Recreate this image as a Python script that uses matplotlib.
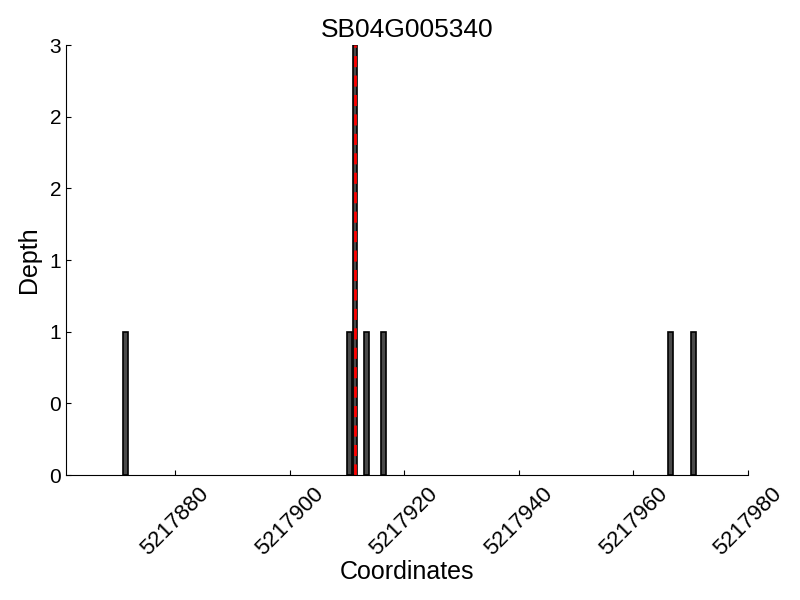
import matplotlib
matplotlib.use('Agg')
import matplotlib.pyplot as plt
from matplotlib.ticker import FormatStrFormatter
import numpy as np

plt.rcParams['font.family'] = ['Liberation Sans', 'DejaVu Sans']

gene = 'SB04G005340'
positions = [5217871, 5217910, 5217911, 5217913, 5217916, 5217966, 5217970]
depths = [1, 1, 3, 1, 1, 1, 1]
snp_pos = 5217911.4

fig = plt.figure(figsize=(8, 6), dpi=100)
ax = fig.add_axes([0.0825, 0.2083, 0.8525, 0.7167])

ax.bar(positions, depths, width=0.85, align='edge', color='#4a4a4a',
       edgecolor='black', linewidth=1.2)
ax.axvline(snp_pos, color='red', linestyle=(0, (4, 3)), linewidth=2)

ax.set_xlim(min(positions) - 10, max(positions) + 10)
ax.set_ylim(0, max(depths))
ax.set_yticks(np.arange(0, max(depths) + 0.5, 0.5))
ax.yaxis.set_major_formatter(FormatStrFormatter('%d'))
ax.xaxis.set_major_formatter(FormatStrFormatter('%d'))

# only left and bottom spines, ticks pointing in
ax.spines['top'].set_visible(False)
ax.spines['right'].set_visible(False)
ax.tick_params(direction='in', labelsize=15, top=False, right=False)
ax.tick_params(axis='x', labelsize=16, pad=6)
plt.setp(ax.get_xticklabels(), rotation=45, ha='center')

ax.set_title(gene, fontsize=19, pad=6)
ax.set_xlabel('Coordinates', fontsize=18, labelpad=0)
ax.set_ylabel('Depth', fontsize=18, labelpad=6)

fig.savefig('out.png', dpi=100)
